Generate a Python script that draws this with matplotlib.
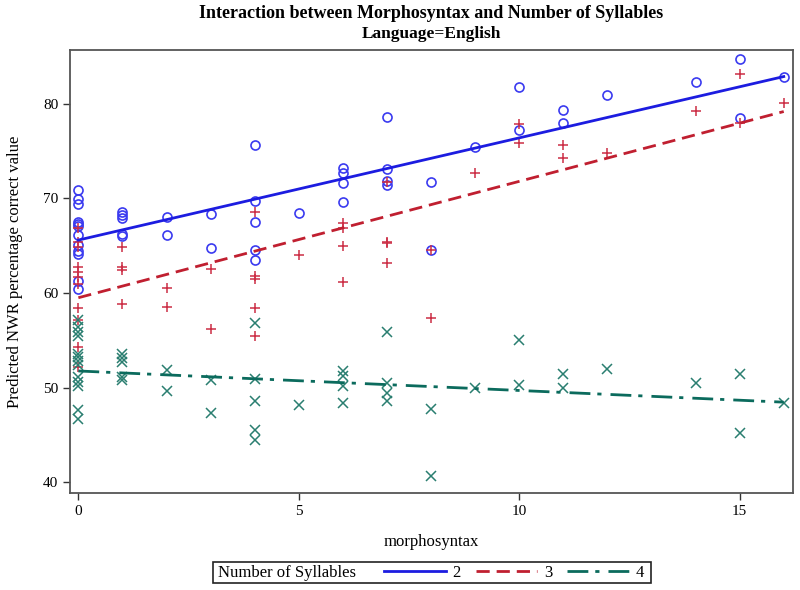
import matplotlib
matplotlib.use("Agg")
import matplotlib.pyplot as plt
from matplotlib.lines import Line2D
from matplotlib.patches import Rectangle

plt.rcParams['font.family'] = ['Liberation Serif', 'DejaVu Serif']
plt.rcParams['lines.scale_dashes'] = False

# values
# syllables = 2
x2 = [0]*12 + [1]*5 + [2]*2 + [3]*2 + [4]*5 + [5] + [6]*4 + [7]*4 + [8]*2 + [9] + [10]*2 + [11]*2 + [12] + [14] + [15]*2 + [16]
y2 = [70.9, 69.9, 69.4, 67.5, 67.3, 67.1, 66.1, 65.1, 64.4, 64.1, 61.3, 60.4,
      68.6, 68.3, 67.9, 66.2, 66.0,
      68.0, 66.1,
      68.4, 64.8,
      75.7, 69.7, 67.5, 64.5, 63.5,
      68.5,
      73.2, 72.7, 71.6, 69.6,
      78.6, 73.1, 71.8, 71.4,
      71.7, 64.6,
      75.5,
      81.8, 77.2,
      79.4, 78.0,
      81.0,
      82.3,
      84.8, 78.5,
      82.9]

# syllables = 3
x3 = [0]*11 + [1]*4 + [2]*2 + [3]*2 + [4]*5 + [5] + [6]*4 + [7]*4 + [8]*2 + [9] + [10]*2 + [11]*2 + [12] + [14] + [15]*2 + [16]
y3 = [66.9, 65.4, 64.9, 62.8, 62.2, 61.7, 60.9, 58.4, 57.1, 54.3, 52.2,
      64.9, 62.7, 62.4, 58.8,
      60.5, 58.5,
      62.5, 56.2,
      68.6, 61.8, 61.5, 58.4, 55.5,
      64.0,
      67.4, 66.9, 65.0, 61.2,
      71.7, 65.4, 65.3, 63.2,
      64.6, 57.4,
      72.7,
      77.9, 75.9,
      75.7, 74.3,
      74.8,
      79.3,
      83.2, 78.0,
      80.1]

# syllables = 4
x4 = [0]*13 + [1]*5 + [2]*2 + [3]*2 + [4]*5 + [5] + [6]*4 + [7]*4 + [8]*2 + [9] + [10]*2 + [11]*2 + [12] + [14] + [15]*2 + [16]
y4 = [57.1, 56.4, 55.9, 55.4, 53.5, 53.2, 52.8, 52.4, 51.1, 50.6, 50.2, 47.6, 46.7,
      53.5, 53.1, 52.7, 51.1, 50.8,
      51.9, 49.6,
      50.8, 47.3,
      56.8, 50.9, 48.6, 45.5, 44.5,
      48.1,
      51.7, 51.2, 50.2, 48.4,
      55.9, 50.5, 49.4, 48.6,
      47.7, 40.6,
      49.9,
      55.0, 50.3,
      51.4, 49.9,
      52.0,
      50.5,
      51.4, 45.2,
      48.4]

# fitted lines (end points)
fit_x = [0, 16]
fit2 = [65.6, 82.9]
fit3 = [59.5, 79.2]
fit4 = [51.75, 48.45]

xticks = [0, 5, 10, 15]
yticks = [40, 50, 60, 70, 80]
groups = ['2', '3', '4']

blue = '#1c1ce0'
red = '#c01f30'
green = '#0b6b5d'

fig = plt.figure(figsize=(8, 5.9), dpi=100)
ax = fig.add_axes([70/800, 1 - 493/590, 723/800, 443/590])

ax.plot(x2, y2, 'o', ms=6.5, mfc='none', mec='#3a3af0', mew=1.2, ls='none')
ax.plot(x3, y3, '+', ms=7, mec='#cc2e45', mew=1.1, ls='none')
ax.plot(x4, y4, 'x', ms=6.5, mec='#2a7e70', mew=1.1, ls='none')

l2, = ax.plot(fit_x, fit2, color=blue, lw=2)
l3, = ax.plot(fit_x, fit3, color=red, lw=2, dashes=[9.5, 5])
l4, = ax.plot(fit_x, fit4, color=green, lw=2, dashes=[15, 5, 3, 6.5])

ax.set_xlim(-0.19, 16.21)
ax.set_ylim(38.84, 85.71)
ax.set_xticks(xticks)
ax.set_yticks(yticks)
ax.tick_params(direction='out', length=5, width=1, colors='#333333', labelsize=11, labelcolor='black')
for s in ax.spines.values():
    s.set_color('#555555')
    s.set_linewidth(1.3)

ax.set_xlabel('morphosyntax', fontsize=12, labelpad=12)
ax.set_ylabel('Predicted NWR percentage correct value', fontsize=12, labelpad=14)

cx = (70 + 793) / 2 / 800
fig.text(cx, 1 - 13/590, 'Interaction between Morphosyntax and Number of Syllables',
         ha='center', va='center', fontsize=13, fontweight='bold')
fig.text(cx, 1 - 34/590, 'Language=English', ha='center', va='center', fontsize=12.5, fontweight='bold')

# legend box at the bottom
fig.patches.append(Rectangle((213/800, 1 - 583/590), (651 - 213)/800, 21/590,
                             transform=fig.transFigure, fill=False, ec='#222222', lw=1.2))
fig.text(218/800, 1 - 573/590, 'Number of Syllables', ha='left', va='center', fontsize=12)
handles = [Line2D([], [], color=blue, lw=2),
           Line2D([], [], color=red, lw=2, dashes=[9.5, 5]),
           Line2D([], [], color=green, lw=2, dashes=[15, 5, 3, 6.5])]
fig.legend(handles, groups, ncol=3, loc='center left', bbox_to_anchor=(384/800, 1 - 573/590),
           frameon=False, fontsize=12, handlelength=3.7, handletextpad=0.4,
           columnspacing=0.9, borderpad=0, borderaxespad=0)

fig.savefig('out.png', dpi=100)
